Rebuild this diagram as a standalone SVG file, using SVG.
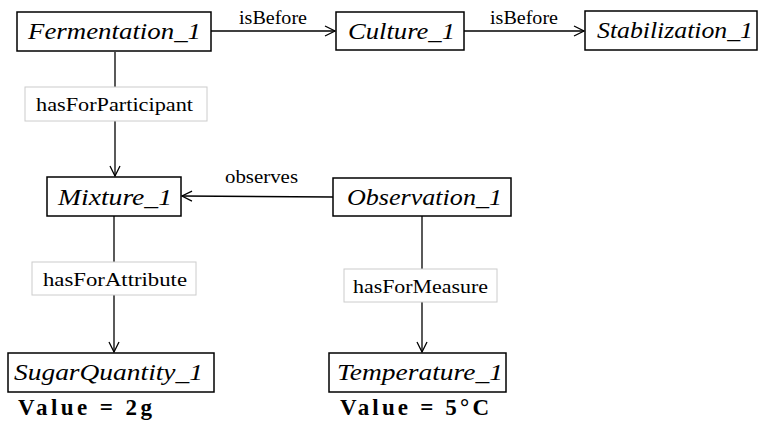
<svg xmlns="http://www.w3.org/2000/svg" width="767" height="424" viewBox="0 0 767 424">
<style>
.box{fill:#fff;stroke:#000;stroke-width:1.5}
.edge{stroke:#000;stroke-width:1.3;fill:none}
.lbox{fill:#fff;stroke:#ccc;stroke-width:1}
</style>
<defs>
<marker id="arr" viewBox="0 0 12 12" refX="11" refY="6" markerWidth="12" markerHeight="12" markerUnits="userSpaceOnUse" orient="auto">
<path d="M1,1 L11,6 L1,11" fill="none" stroke="#000" stroke-width="1.3"/>
</marker>
</defs>
<g id="connectors">
<line class="edge" x1="211" y1="31" x2="335" y2="31" marker-end="url(#arr)"/>
<text style="font-family:'Liberation Serif',serif;font-size:18px" x="239" y="24" textLength="68" lengthAdjust="spacingAndGlyphs">isBefore</text>
<line class="edge" x1="464" y1="31" x2="584" y2="31" marker-end="url(#arr)"/>
<text style="font-family:'Liberation Serif',serif;font-size:18px" x="490" y="24" textLength="68" lengthAdjust="spacingAndGlyphs">isBefore</text>
<line class="edge" x1="115" y1="52" x2="115" y2="176" marker-end="url(#arr)"/>
<rect class="lbox" x="25" y="87" width="182" height="34"/>
<text style="font-family:'Liberation Serif',serif;font-size:18px" x="36" y="111" textLength="157" lengthAdjust="spacingAndGlyphs">hasForParticipant</text>
<line class="edge" x1="333" y1="197" x2="182" y2="196" marker-end="url(#arr)"/>
<text style="font-family:'Liberation Serif',serif;font-size:18px" x="225" y="183" textLength="73" lengthAdjust="spacingAndGlyphs">observes</text>
<line class="edge" x1="114" y1="216" x2="114" y2="352" marker-end="url(#arr)"/>
<rect class="lbox" x="32" y="262" width="164" height="33"/>
<text style="font-family:'Liberation Serif',serif;font-size:18px" x="43" y="286" textLength="144" lengthAdjust="spacingAndGlyphs">hasForAttribute</text>
<line class="edge" x1="422" y1="216" x2="422" y2="352" marker-end="url(#arr)"/>
<rect class="lbox" x="344" y="269" width="153" height="33"/>
<text style="font-family:'Liberation Serif',serif;font-size:18px" x="353" y="293" textLength="135" lengthAdjust="spacingAndGlyphs">hasForMeasure</text>
</g>
<g id="Fermentation_1"><rect class="box" x="17" y="12" width="194" height="39"/><text style="font-family:'Liberation Serif',serif;font-style:italic;font-size:23px" x="28" y="39" textLength="173" lengthAdjust="spacingAndGlyphs">Fermentation_1</text></g>
<g id="Culture_1"><rect class="box" x="336" y="12" width="128" height="38"/><text style="font-family:'Liberation Serif',serif;font-style:italic;font-size:23px" x="348" y="39" textLength="107" lengthAdjust="spacingAndGlyphs">Culture_1</text></g>
<g id="Stabilization_1"><rect class="box" x="585" y="11" width="172" height="39"/><text style="font-family:'Liberation Serif',serif;font-style:italic;font-size:23px" x="597" y="38" textLength="156" lengthAdjust="spacingAndGlyphs">Stabilization_1</text></g>
<g id="Mixture_1"><rect class="box" x="47" y="177" width="134" height="39"/><text style="font-family:'Liberation Serif',serif;font-style:italic;font-size:23px" x="58" y="205" textLength="114" lengthAdjust="spacingAndGlyphs">Mixture_1</text></g>
<g id="Observation_1"><rect class="box" x="333" y="178" width="178" height="38"/><text style="font-family:'Liberation Serif',serif;font-style:italic;font-size:23px" x="347" y="205" textLength="155" lengthAdjust="spacingAndGlyphs">Observation_1</text></g>
<g id="SugarQuantity_1"><rect class="box" x="8" y="353" width="206" height="39"/><text style="font-family:'Liberation Serif',serif;font-style:italic;font-size:23px" x="14" y="380" textLength="189" lengthAdjust="spacingAndGlyphs">SugarQuantity_1</text><text style="font-family:'Liberation Serif',serif;font-weight:bold;font-size:23px" x="18" y="415" textLength="134" lengthAdjust="spacing">Value = 2g</text></g>
<g id="Temperature_1"><rect class="box" x="329" y="353" width="177" height="39"/><text style="font-family:'Liberation Serif',serif;font-style:italic;font-size:23px" x="337" y="380" textLength="166" lengthAdjust="spacingAndGlyphs">Temperature_1</text><text style="font-family:'Liberation Serif',serif;font-weight:bold;font-size:23px" x="340" y="415" textLength="149" lengthAdjust="spacing">Value = 5°C</text></g>
</svg>
